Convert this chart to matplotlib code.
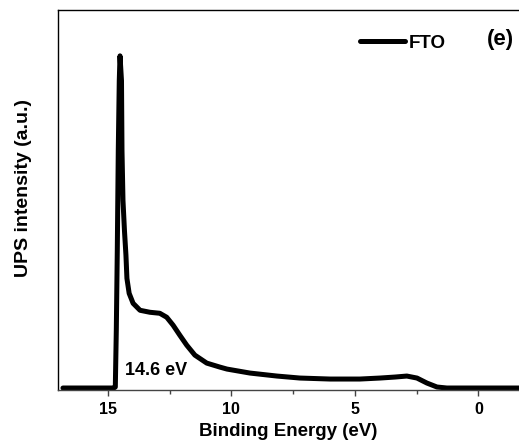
import matplotlib
matplotlib.use("Agg")
import matplotlib.pyplot as plt
from matplotlib.ticker import MultipleLocator

plt.rcParams['font.family'] = ['Liberation Sans', 'DejaVu Sans']
plt.rcParams['font.weight'] = 'bold'

# UPS spectrum of bare FTO (binding energy in eV, normalised intensity)
energy = [16.82, 14.76, 14.70, 14.66, 14.62, 14.58, 14.54, 14.51, 14.45, 14.43,
          14.39, 14.33, 14.27, 14.23, 14.14, 13.98, 13.70, 13.30, 12.90, 12.62,
          12.36, 12.09, 11.81, 11.48, 11.00, 10.47, 10.18, 9.25, 8.16, 7.23,
          6.01, 4.80, 3.99, 3.38, 2.90, 2.49, 2.09, 1.68, 1.28, -1.64]
intensity = [0.0, 0.0, 0.003, 0.174, 0.414, 0.715, 0.925, 1.0, 0.925, 0.715,
             0.565, 0.474, 0.400, 0.330, 0.285, 0.255, 0.234, 0.228, 0.225, 0.213,
             0.189, 0.159, 0.129, 0.099, 0.075, 0.063, 0.057, 0.045, 0.036, 0.030,
             0.027, 0.027, 0.030, 0.033, 0.036, 0.030, 0.015, 0.003, 0.0, 0.0]
onset_label = "14.6 eV"
major_ticks = [15, 10, 5, 0]

fig = plt.figure(figsize=(5.19, 4.42), dpi=100)
ax = fig.add_axes([58 / 519, 52 / 442, 1 - 58 / 519, 380 / 442])

line, = ax.plot(energy, intensity, color="black", lw=3.6, solid_capstyle="round",
                solid_joinstyle="round", label="FTO")

ax.set_xlim(17.02, -1.64)
ax.set_ylim(-0.006, 1.138)
ax.set_xticks(major_ticks)
ax.xaxis.set_minor_locator(MultipleLocator(2.5))
ax.set_yticks([])
ax.tick_params(axis="x", which="major", direction="out", length=4, width=1,
               labelsize=11.5, pad=5, color="#444444")
ax.tick_params(axis="x", which="minor", direction="out", length=3, width=1,
               color="#444444")
for lbl in ax.get_xticklabels():
    lbl.set_fontweight("bold")

for side in ["left", "top", "bottom"]:
    ax.spines[side].set_linewidth(1.0)
ax.spines["bottom"].set_color("#444444")
ax.spines["right"].set_visible(False)

fig.text(288 / 519, 1 - 431 / 442, "Binding Energy (eV)", fontsize=13.5,
         fontweight="bold", ha="center", va="center")
fig.text(24 / 519, 1 - 188 / 442, "UPS intensity (a.u.)", rotation=90,
         fontsize=14, fontweight="bold", ha="center", va="center")

ax.text(14.31, 0.054, onset_label, fontsize=13, fontweight="bold",
        ha="left", va="center")

leg = ax.legend(handles=[line], loc="center left", frameon=False,
                bbox_to_anchor=(360 / 519, 1 - 43 / 442),
                bbox_transform=fig.transFigure, borderpad=0, borderaxespad=0,
                handlelength=2.4, handletextpad=0.2,
                prop={"weight": "bold", "size": 13.5})
fig.text(500 / 519, 1 - 40 / 442, "(e)", fontsize=16, fontweight="bold",
         ha="center", va="center")

fig.savefig("out.png", dpi=100)
